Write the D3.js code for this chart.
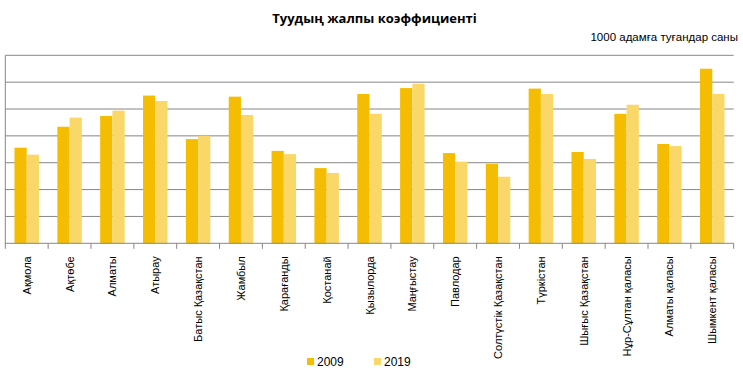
<!DOCTYPE html>
<html><head><meta charset="utf-8">
<script src="https://cdn.jsdelivr.net/npm/d3@7"></script>
<style>body{margin:0;background:#fff}svg{display:block}</style>
</head><body>
<svg id="c" width="743" height="380"></svg>
<script>
const categories = ["Ақмола","Ақтөбе","Алматы","Атырау","Батыс Қазақстан","Жамбыл","Қарағанды","Қостанай","Қызылорда","Маңғыстау","Павлодар","Солтүстік Қазақстан","Түркістан","Шығыс Қазақстан","Нұр-Сұлтан қаласы","Алматы қаласы","Шымкент қаласы"];
const seriesNames = ["2009","2019"];
const values2009 = [17.8,21.7,23.7,27.5,19.4,27.3,17.2,14.0,27.8,28.9,16.8,14.8,28.8,17.0,24.1,18.5,32.5];
const values2019 = [16.5,23.4,24.7,26.5,20.0,23.9,16.6,13.1,24.1,29.7,15.2,12.4,27.8,15.7,25.8,18.1,27.8];
const yTicks = [0,5,10,15,20,25,30,35];
const colors = ["#F5BD02","#F9D768"];
const titleText = "Туудың жалпы коэффициенті";
const unitText = "1000 адамға туғандар саны";

const svg = d3.select("#c");
const L=5.3, R=733.7, T=55.3, B=243.3;
const x = d3.scaleBand().domain(categories).range([L,R]).paddingInner(0).paddingOuter(0);
const x1 = d3.scaleBand().domain(seriesNames).range([0,x.bandwidth()]).paddingInner(0).paddingOuter(0.75*0.5*2/ (2) );
// compute inner band so that gap width ~150%
const bw = x.bandwidth()/(2+1.5);
const off = 0.75*bw;
const y = d3.scaleLinear().domain([0,35]).range([B,T]);

// gridlines
svg.append("g").selectAll("line").data(yTicks.slice(1)).join("line")
  .attr("x1",L).attr("x2",R).attr("y1",d=>y(d)).attr("y2",d=>y(d))
  .attr("stroke","#868686").attr("stroke-width",1);
// left border
svg.append("line").attr("x1",L).attr("x2",L).attr("y1",T).attr("y2",B).attr("stroke","#868686");

const data = [values2009, values2019];
data.forEach((vals,si)=>{
  svg.append("g").selectAll("rect").data(vals).join("rect")
    .attr("x",(d,i)=>x(categories[i])+off+si*bw)
    .attr("width",bw)
    .attr("y",d=>y(d))
    .attr("height",d=>B-y(d))
    .attr("fill",colors[si]);
});

// x axis
const xa = svg.append("g").attr("transform",`translate(0,${B})`);
xa.append("line").attr("x1",L).attr("x2",R).attr("stroke","#868686");
const ticks = categories.map(c=>x(c)).concat([R]);
xa.selectAll("line.t").data(ticks).join("line").attr("class","t")
  .attr("x1",d=>d).attr("x2",d=>d).attr("y1",0).attr("y2",5.5).attr("stroke","#868686");
xa.selectAll("text").data(categories).join("text")
  .attr("transform",d=>`translate(${x(d)+x.bandwidth()/2+4},${13}) rotate(-90)`)
  .attr("text-anchor","end")
  .attr("font-family","Liberation Sans, Arial, sans-serif")
  .attr("font-size",11).attr("fill","#000")
  .text(d=>d);

// title
svg.append("text").attr("x",374.5).attr("y",23).attr("text-anchor","middle")
  .attr("font-family","Open Sans, Liberation Sans, sans-serif").attr("font-weight","bold")
  .attr("font-size",13).text(titleText);
svg.append("text").attr("x",738).attr("y",41).attr("text-anchor","end")
  .attr("font-family","Liberation Sans Narrow, Liberation Sans, sans-serif")
  .attr("font-size",11.5).text(unitText);

// legend
const lg = svg.append("g");
const lx = [307,374];
seriesNames.forEach((s,i)=>{
  lg.append("rect").attr("x",lx[i]).attr("y",358).attr("width",7).attr("height",7).attr("fill",colors[i]);
  lg.append("text").attr("x",lx[i]+10).attr("y",366).attr("font-family","Liberation Sans, Arial, sans-serif")
    .attr("font-size",12).text(s);
});
</script>
</body></html>
